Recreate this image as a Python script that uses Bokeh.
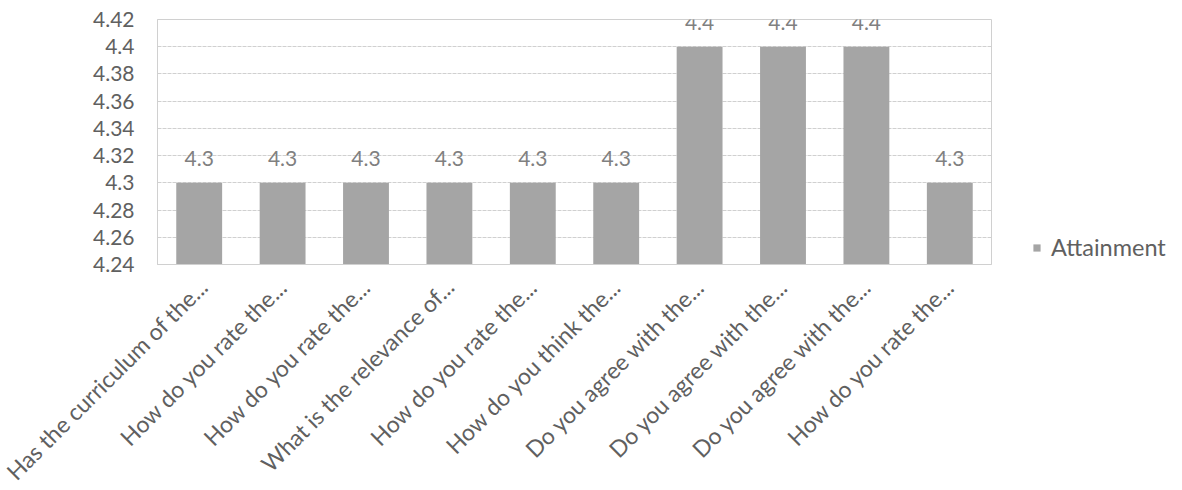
from bokeh.plotting import figure
from bokeh.models import ColumnDataSource, FixedTicker, Legend, LegendItem, LabelSet
from bokeh.embed import file_html
from bokeh.resources import INLINE
from bokeh.core.properties import value

categories = [
    "Has the curriculum of the...",
    "How do you rate the...",
    "\u200bHow do you rate the...",
    "What is the relevance of...",
    "\u200b\u200bHow do you rate the...",
    "How do you think the...",
    "Do you agree with the...",
    "\u200bDo you agree with the...",
    "\u200b\u200bDo you agree with the...",
    "\u200b\u200b\u200bHow do you rate the...",
]
attainment = [4.3, 4.3, 4.3, 4.3, 4.3, 4.3, 4.4, 4.4, 4.4, 4.3]
value_labels = ["4.3", "4.3", "4.3", "4.3", "4.3", "4.3", "4.4", "4.4", "4.4", "4.3"]
y_ticks = [4.24, 4.26, 4.28, 4.30, 4.32, 4.34, 4.36, 4.38, 4.40, 4.42]
y_tick_labels = ["4.24", "4.26", "4.28", "4.3", "4.32", "4.34", "4.36", "4.38", "4.4", "4.42"]
series_name = "Attainment"

FONT = "Lato"
TEXT_COLOR = "#606060"
BAR_COLOR = "#a5a5a5"

source = ColumnDataSource(dict(cat=categories, val=attainment, lab=value_labels))

p = figure(
    x_range=categories, y_range=(4.24, 4.42),
    frame_width=834, frame_height=245,
    output_backend="svg", toolbar_location=None,
    min_border_left=157, min_border_right=182,
    min_border_top=19, min_border_bottom=200,
)
p.outline_line_color = "#d0d0d0"
p.background_fill_color = "white"

r = p.vbar(x="cat", top="val", bottom=4.24, width=0.55, source=source,
           fill_color=BAR_COLOR, line_color=None)

labels = LabelSet(x="cat", y="val", text="lab", source=source,
                  text_align="center", text_baseline="middle", y_offset=24,
                  text_font=value(FONT), text_font_size="21px", text_color="#808080")
p.add_layout(labels)

p.yaxis.ticker = FixedTicker(ticks=y_ticks)
p.yaxis.major_label_overrides = {t: s for t, s in zip(y_ticks, y_tick_labels)}
p.yaxis.major_tick_line_color = None
p.yaxis.major_tick_out = 0
p.yaxis.minor_tick_line_color = None
p.yaxis.axis_line_color = "#d0d0d0"
p.yaxis.major_label_standoff = 23
p.yaxis.major_label_text_font = FONT
p.yaxis.major_label_text_font_size = "21px"
p.yaxis.major_label_text_color = TEXT_COLOR

p.xaxis.major_tick_line_color = None
p.xaxis.major_tick_out = 0
p.xaxis.axis_line_color = "#d0d0d0"
p.xaxis.major_label_orientation = 0.785398
p.xaxis.major_label_standoff = 18
p.xaxis.major_label_text_font = FONT
p.xaxis.major_label_text_font_size = "23px"
p.xaxis.major_label_text_color = TEXT_COLOR

p.xgrid.grid_line_color = None
p.ygrid.grid_line_color = "#d0d0d0"
p.ygrid.grid_line_dash = "4 1"

legend = Legend(items=[LegendItem(label=series_name, renderers=[r])],
                location=(41, 3), border_line_color=None,
                background_fill_alpha=0,
                label_text_font=FONT, label_text_font_size="23.5px",
                label_text_color=TEXT_COLOR,
                glyph_width=9, glyph_height=9, label_standoff=10,
                margin=0, padding=0, spacing=0)
p.add_layout(legend, "right")

open("out.html", "w").write(file_html(p, INLINE))
